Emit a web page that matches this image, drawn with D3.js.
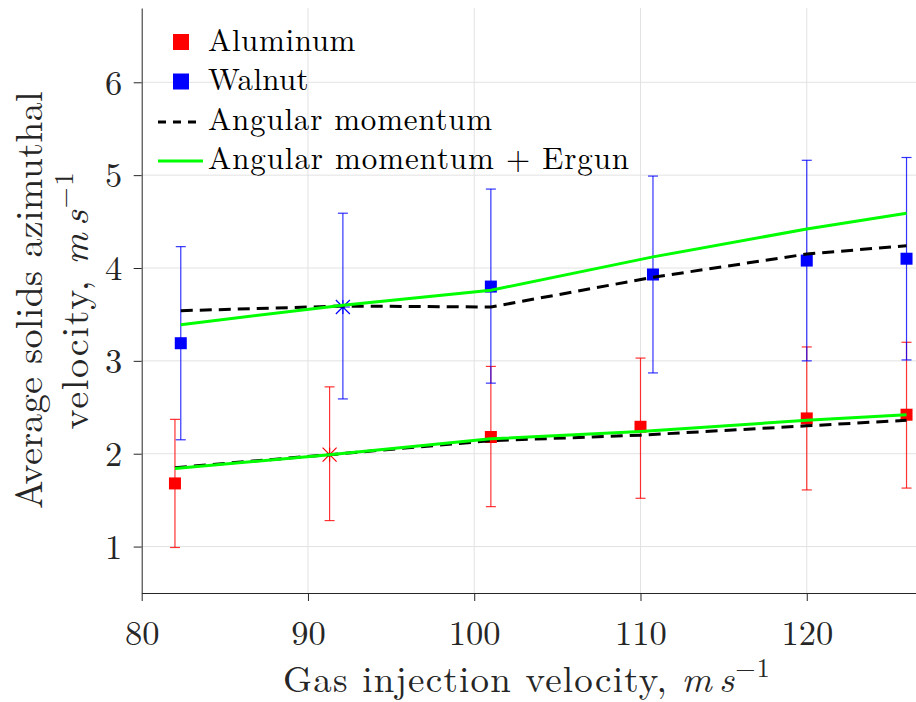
<!DOCTYPE html>
<html>
<head>
<meta charset="utf-8">
<script src="https://cdn.jsdelivr.net/npm/d3@7"></script>
<style>
  html, body { margin: 0; padding: 0; background: #fff; }
  svg { display: block; }
</style>
</head>
<body>
<svg id="chart" width="916" height="702"></svg>
<script>
// ---------------- data ----------------
const xTicks = [80, 90, 100, 110, 120];
const yTicks = [1, 2, 3, 4, 5, 6];

const aluminumX    = [82, 91.3, 101, 110, 120, 126];
const aluminumY    = [1.68, 1.99, 2.18, 2.29, 2.38, 2.42];
const aluminumLow  = [0.99, 1.28, 1.43, 1.52, 1.61, 1.63];
const aluminumHigh = [2.37, 2.72, 2.94, 3.03, 3.15, 3.20];
const aluminumMarker = ["square", "asterisk", "square", "square", "square", "square"];

const walnutX    = [82.35, 92.1, 101, 110.75, 120, 126];
const walnutY    = [3.19, 3.58, 3.80, 3.93, 4.08, 4.10];
const walnutLow  = [2.15, 2.59, 2.76, 2.87, 3.00, 3.01];
const walnutHigh = [4.23, 4.59, 4.85, 4.99, 5.16, 5.19];
const walnutMarker = ["square", "asterisk", "square", "square", "square", "square"];

// model curves (Angular momentum, Angular momentum + Ergun)
const aluminumAM      = [1.85, 1.99, 2.14, 2.20, 2.30, 2.36];
const aluminumAMErgun = [1.84, 1.99, 2.16, 2.24, 2.36, 2.42];
const walnutAM        = [3.54, 3.59, 3.58, 3.90, 4.15, 4.24];
const walnutAMErgun   = [3.39, 3.60, 3.76, 4.12, 4.42, 4.59];

const legendLabels = ["Aluminum", "Walnut", "Angular momentum", "Angular momentum + Ergun"];

// ---------------- font selection ----------------
function fontAvailable(name) {
  const c = document.createElement("canvas").getContext("2d");
  const s = "Average solids azimuthal 0123456789 mmmWWWiii";
  let diff = false;
  ["monospace", "sans-serif"].forEach(base => {
    c.font = `40px ${base}`;
    const w0 = c.measureText(s).width;
    c.font = `40px "${name}", ${base}`;
    const w1 = c.measureText(s).width;
    if (Math.abs(w1 - w0) > 0.5) diff = true;
  });
  return diff;
}
const fontCandidates = ["Latin Modern Roman", "CMU Serif", "Liberation Serif", "Times New Roman", "Tinos",
  "DejaVu Serif", "Noto Serif", "FreeSerif", "Times"];
const foundFont = fontCandidates.find(fontAvailable);
const SERIF = (foundFont ? `"${foundFont}", ` : "") + "serif";

// ---------------- setup ----------------
const svg = d3.select("#chart");
const x = d3.scaleLinear().domain([80, 126.57]).range([141.7, 916]);
const y = d3.scaleLinear().domain([0.5, 6.8]).range([593, 8]);

const RED = "#ff0000", BLUE = "#0000ff", GREEN = "#00ff00";

// gridlines
const grid = svg.append("g");
grid.selectAll("line.gx").data(xTicks.filter(d => d !== 80)).join("line")
  .attr("x1", d => x(d)).attr("x2", d => x(d))
  .attr("y1", y.range()[0]).attr("y2", y.range()[1])
  .attr("stroke", "#e2e2e2").attr("stroke-width", 1);
grid.selectAll("line.gy").data(yTicks).join("line")
  .attr("x1", x.range()[0]).attr("x2", x.range()[1])
  .attr("y1", d => y(d)).attr("y2", d => y(d))
  .attr("stroke", "#e2e2e2").attr("stroke-width", 1);

// axes
const xAxis = svg.append("g").attr("transform", `translate(0,${y.range()[0]})`)
  .call(d3.axisBottom(x).tickValues(xTicks).tickSize(8).tickSizeOuter(0).tickFormat(d3.format("d")));
const yAxis = svg.append("g").attr("transform", `translate(${x.range()[0]},0)`)
  .call(d3.axisLeft(y).tickValues(yTicks).tickSize(8).tickSizeOuter(0).tickFormat(d3.format("d")));
[xAxis, yAxis].forEach(a => {
  a.attr("font-family", SERIF).attr("font-size", 34.5);
  a.select(".domain").attr("stroke", "#262626").attr("stroke-width", 1);
  a.selectAll(".tick line").attr("stroke", "#262626").attr("stroke-width", 1);
  a.selectAll(".tick text").attr("fill", "#262626");
});
xAxis.selectAll(".tick text").attr("y", 51.5).attr("dy", 0);
yAxis.selectAll(".tick text").attr("x", -19.5).attr("dy", "0.34em");

// error bars
function errorBars(xs, lo, hi, color) {
  const g = svg.append("g").attr("stroke", color).attr("stroke-width", 1.2).attr("stroke-opacity", 0.8);
  xs.forEach((xv, i) => {
    g.append("line").attr("x1", x(xv)).attr("x2", x(xv)).attr("y1", y(lo[i])).attr("y2", y(hi[i]));
    g.append("line").attr("x1", x(xv) - 5).attr("x2", x(xv) + 5).attr("y1", y(lo[i])).attr("y2", y(lo[i]));
    g.append("line").attr("x1", x(xv) - 5).attr("x2", x(xv) + 5).attr("y1", y(hi[i])).attr("y2", y(hi[i]));
  });
}
errorBars(aluminumX, aluminumLow, aluminumHigh, RED);
errorBars(walnutX, walnutLow, walnutHigh, BLUE);

// markers
function markers(xs, ys, kinds, color) {
  const g = svg.append("g");
  xs.forEach((xv, i) => {
    const cx = x(xv), cy = y(ys[i]);
    if (kinds[i] === "square") {
      g.append("rect").attr("x", cx - 6).attr("y", cy - 6).attr("width", 12).attr("height", 12).attr("fill", color);
    } else {
      const r = 7;
      const p = `M${cx - r},${cy - r}L${cx + r},${cy + r}M${cx - r},${cy + r}L${cx + r},${cy - r}M${cx},${cy - r}L${cx},${cy + r}M${cx - r},${cy}L${cx + r},${cy}`;
      g.append("path").attr("d", p).attr("stroke", color).attr("stroke-width", 1.2).attr("fill", "none");
    }
  });
}
markers(aluminumX, aluminumY, aluminumMarker, RED);
markers(walnutX, walnutY, walnutMarker, BLUE);

// model lines
const line = d3.line().x(d => x(d[0])).y(d => y(d[1]));
function drawLine(xs, ys, color, dash) {
  svg.append("path").datum(xs.map((xv, i) => [xv, ys[i]]))
    .attr("d", line).attr("fill", "none").attr("stroke", color).attr("stroke-width", 3)
    .attr("stroke-dasharray", dash || null);
}
drawLine(walnutX, walnutAM, "#000", "12,7");
drawLine(aluminumX, aluminumAM, "#000", "12,7");
drawLine(walnutX, walnutAMErgun, GREEN);
drawLine(aluminumX, aluminumAMErgun, GREEN);

// text width fitting via letter-spacing (approximate Computer Modern widths)
function fit(sel, target) {
  const n = sel.text().length;
  const w = sel.node().getComputedTextLength();
  sel.attr("letter-spacing", ((target - w) / n).toFixed(3));
}

// legend
const lg = svg.append("g").attr("font-family", SERIF);
const rowY = [50.5, 90, 129.5, 169];
const legendWidths = [148, 101, 285, 422];
lg.append("rect").attr("x", 173).attr("y", 34).attr("width", 16).attr("height", 16).attr("fill", RED);
lg.append("rect").attr("x", 173).attr("y", 73.5).attr("width", 16).attr("height", 16).attr("fill", BLUE);
lg.append("line").attr("x1", 158).attr("x2", 203).attr("y1", 122).attr("y2", 122)
  .attr("stroke", "#000").attr("stroke-width", 3).attr("stroke-dasharray", "8,7");
lg.append("line").attr("x1", 158).attr("x2", 203).attr("y1", 161).attr("y2", 161)
  .attr("stroke", GREEN).attr("stroke-width", 3);
legendLabels.forEach((t, i) => {
  const tx = lg.append("text").attr("x", 208).attr("y", rowY[i]).attr("font-size", 31).attr("fill", "#000").text(t);
  fit(tx, legendWidths[i]);
});

// x label
const xl = svg.append("text").attr("x", 527).attr("y", 692).attr("text-anchor", "middle")
  .attr("font-family", SERIF).attr("font-size", 37).attr("fill", "#262626");
xl.append("tspan").text("Gas injection velocity, ");
xl.append("tspan").attr("font-style", "italic").text("m");
xl.append("tspan").attr("dx", 6).attr("font-style", "italic").text("s");
xl.append("tspan").attr("dy", -15).attr("font-size", 26).text("\u22121");
fit(xl, 482);

// y label (two lines)
const yg = svg.append("g").attr("transform", "translate(0,300) rotate(-90)").attr("font-family", SERIF);
const yl1 = yg.append("text").attr("x", 0).attr("y", 42).attr("text-anchor", "middle")
  .attr("font-size", 38).attr("fill", "#262626").text("Average solids azimuthal");
fit(yl1, 418);
const yl2 = yg.append("text").attr("x", 0).attr("y", 88).attr("text-anchor", "middle")
  .attr("font-size", 38).attr("fill", "#262626");
yl2.append("tspan").text("velocity, ");
yl2.append("tspan").attr("font-style", "italic").text("m");
yl2.append("tspan").attr("dx", 6).attr("font-style", "italic").text("s");
yl2.append("tspan").attr("dy", -15).attr("font-size", 27).text("\u22121");
fit(yl2, 253);
</script>
</body>
</html>
